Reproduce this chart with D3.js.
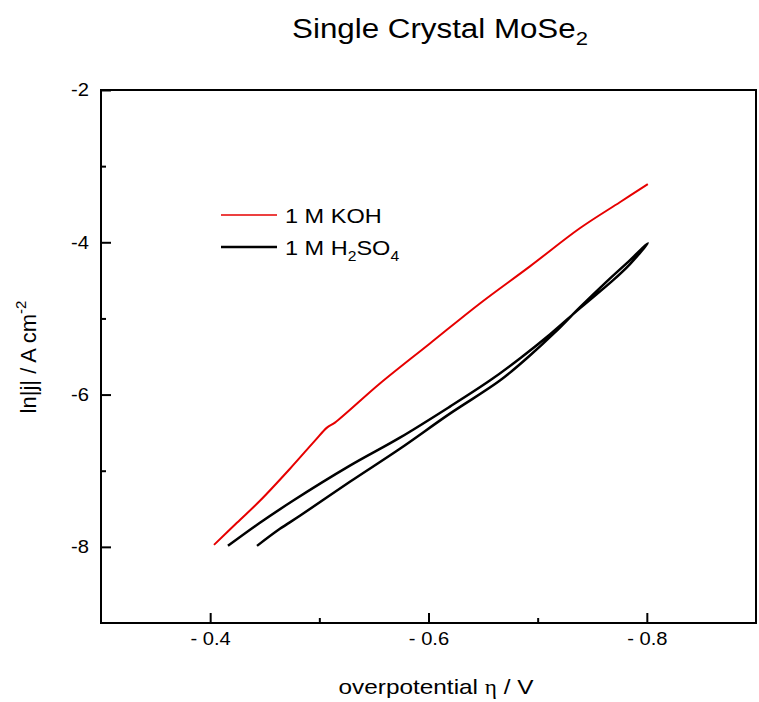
<!DOCTYPE html>
<html>
<head>
<meta charset="utf-8">
<script src="https://cdn.jsdelivr.net/npm/d3@7"></script>
<style>
  body { margin: 0; background: #fff; }
  svg { display: block; font-family: "Liberation Sans", Arial, sans-serif; }
</style>
</head>
<body>
<svg width="759" height="702"></svg>
<script>
// overpotential (V) and ln|j|
const kohEta = [-0.4035, -0.4245, -0.4456, -0.4731, -0.496, -0.507, -0.5143, -0.5555, -0.6013, -0.6471, -0.6929, -0.7386, -0.7753, -0.8009];
const kohLnJ = [-7.974, -7.684, -7.395, -6.974, -6.605, -6.434, -6.368, -5.855, -5.329, -4.803, -4.316, -3.816, -3.474, -3.237];

// H2SO4 is a loop: forward scan then back
const h2so4Eta = [-0.4163, -0.4456, -0.4758, -0.528, -0.5738, -0.6196, -0.6562, -0.6837, -0.7112, -0.7386, -0.7689, -0.7844, -0.8009,
                  -0.7844, -0.7634, -0.7386, -0.7158, -0.6929, -0.6654, -0.6196, -0.5738, -0.528, -0.4822, -0.4639, -0.4429];
const h2so4LnJ = [-7.987, -7.684, -7.395, -6.934, -6.566, -6.158, -5.816, -5.526, -5.211, -4.868, -4.5, -4.289, -4.013,
                  -4.237, -4.513, -4.855, -5.184, -5.487, -5.816, -6.25, -6.711, -7.145, -7.592, -7.763, -7.987];

const xMajor = [-0.4, -0.6, -0.8];
const xMajorLabels = ["- 0.4", "- 0.6", "- 0.8"];
const xMinor = [-0.5, -0.7];
const yMajor = [-2, -4, -6, -8];
const yMajorLabels = ["-2", "-4", "-6", "-8"];
const yMinor = [-3, -5, -7];

const svg = d3.select("svg");
const pLeft = 101, pTop = 90, pRight = 756, pBottom = 623;

const x = d3.scaleLinear().domain([-0.3, -0.9]).range([pLeft, pRight]);
const y = d3.scaleLinear().domain([-9, -2]).range([pBottom, pTop]);

// the original text is a bit wide, so stretch it sideways around its anchor
function stretch(sel, sx) {
    sel.each(function() {
        const t = d3.select(this);
        const tx = +t.attr("x") || 0, ty = +t.attr("y") || 0;
        t.attr("x", 0).attr("y", 0).attr("transform", `translate(${tx},${ty}) scale(${sx},1)`);
    });
}

// title
const title = svg.append("text")
    .attr("x", 440).attr("y", 38)
    .attr("text-anchor", "middle")
    .attr("font-size", 27)
    .text("Single Crystal MoSe");
title.append("tspan").attr("font-size", 19).attr("dy", 7).text("2");
stretch(title, 1.16);

// axes, ticks pointing inward
svg.append("g").attr("transform", `translate(0,${pBottom})`)
    .call(d3.axisBottom(x).tickValues(xMajor).tickSize(-10).tickPadding(9)
        .tickFormat((d, i) => xMajorLabels[i]));
svg.append("g").attr("transform", `translate(0,${pBottom})`)
    .call(d3.axisBottom(x).tickValues(xMinor).tickSize(-5).tickFormat(""));

svg.append("g").attr("transform", `translate(${pLeft},0)`)
    .call(d3.axisLeft(y).tickValues(yMajor).tickSize(-10).tickPadding(12)
        .tickFormat((d, i) => yMajorLabels[i]));
svg.append("g").attr("transform", `translate(${pLeft},0)`)
    .call(d3.axisLeft(y).tickValues(yMinor).tickSize(-5).tickFormat(""));

svg.selectAll(".domain").remove();
svg.selectAll(".tick line").attr("stroke", "#000").attr("stroke-width", 2);
svg.selectAll(".tick text").attr("font-size", 18).attr("fill", "#000")
    .attr("font-family", "Liberation Sans, Arial, sans-serif");
stretch(svg.selectAll(".tick text"), 1.12);

svg.append("rect")
    .attr("x", pLeft).attr("y", pTop)
    .attr("width", pRight - pLeft).attr("height", pBottom - pTop)
    .attr("fill", "none").attr("stroke", "#000").attr("stroke-width", 2);

// axis titles
const xt = svg.append("text")
    .attr("x", 436).attr("y", 694)
    .attr("text-anchor", "middle")
    .attr("font-size", 21)
    .text("overpotential ");
xt.append("tspan").attr("font-family", "Liberation Serif, serif").attr("font-size", 20).text("η");
xt.append("tspan").text(" / V");
stretch(xt, 1.16);

const yt = svg.append("text")
    .attr("transform", "translate(36,357) rotate(-90)")
    .attr("text-anchor", "middle")
    .attr("font-size", 22)
    .text("ln|j| / A cm");
yt.append("tspan").attr("font-size", 15).attr("dy", -10).text("-2");

// curves
const line = d3.line().x(d => x(d[0])).y(d => y(d[1])).curve(d3.curveCatmullRom.alpha(0.5));

svg.append("path")
    .datum(h2so4Eta.map((v, i) => [v, h2so4LnJ[i]]))
    .attr("d", line)
    .attr("fill", "none").attr("stroke", "#000").attr("stroke-width", 2.5)
    .attr("stroke-linejoin", "round");

svg.append("path")
    .datum(kohEta.map((v, i) => [v, kohLnJ[i]]))
    .attr("d", line)
    .attr("fill", "none").attr("stroke", "#e60000").attr("stroke-width", 2)
    .attr("stroke-linejoin", "round");

// legend
const legend = svg.append("g");
legend.append("line").attr("x1", 221).attr("x2", 277).attr("y1", 215).attr("y2", 215)
    .attr("stroke", "#e60000").attr("stroke-width", 1.5);
const l1 = legend.append("text").attr("x", 285).attr("y", 223).attr("font-size", 21).text("1 M KOH");
legend.append("line").attr("x1", 221).attr("x2", 277).attr("y1", 247).attr("y2", 247)
    .attr("stroke", "#000").attr("stroke-width", 2.5);
const l2 = legend.append("text").attr("x", 285).attr("y", 255).attr("font-size", 21).text("1 M H");
l2.append("tspan").attr("font-size", 14).attr("dy", 6).text("2");
l2.append("tspan").attr("dy", -6).text("SO");
l2.append("tspan").attr("font-size", 14).attr("dy", 6).text("4");
stretch(l1, 1.12);
stretch(l2, 1.12);
</script>
</body>
</html>
